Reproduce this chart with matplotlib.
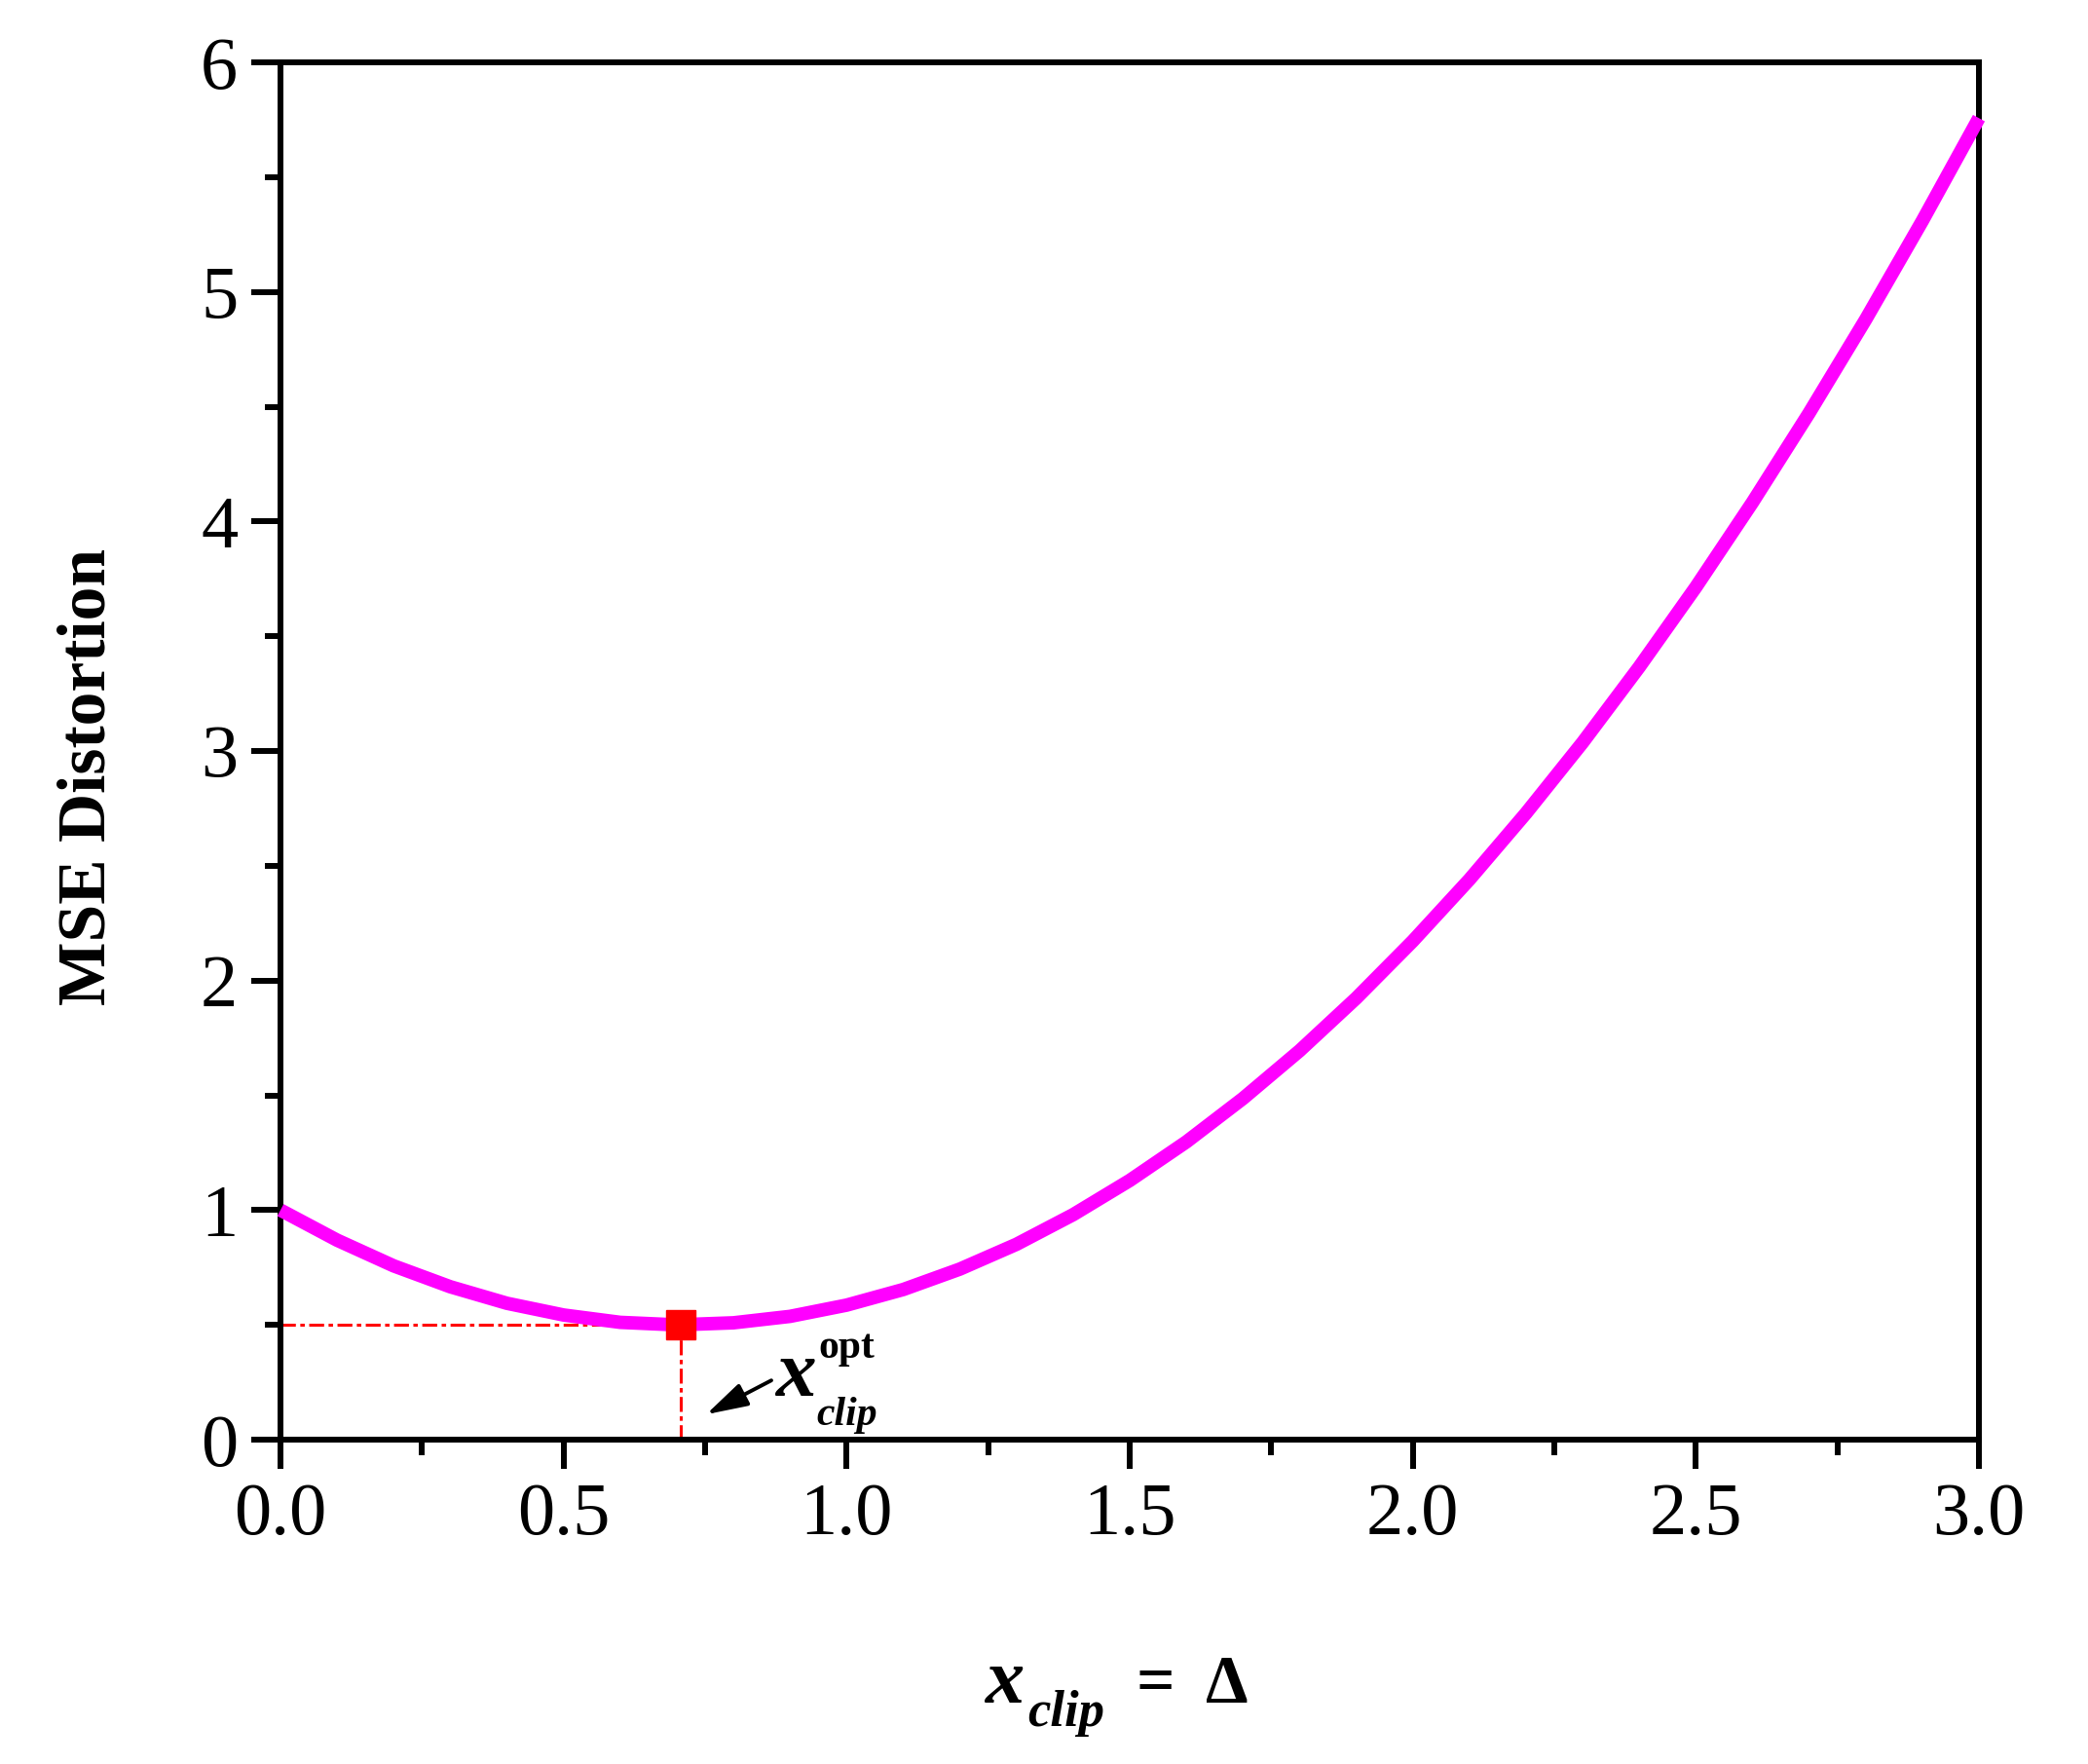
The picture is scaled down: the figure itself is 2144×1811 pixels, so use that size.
import matplotlib
matplotlib.use("Agg")
import matplotlib.pyplot as plt
from matplotlib.ticker import MultipleLocator, FormatStrFormatter

# Data
x_clip = [0.0, 0.1, 0.2, 0.3, 0.4, 0.5, 0.6, 0.7, 0.8, 0.9, 1.0,
          1.1, 1.2, 1.3, 1.4, 1.5, 1.6, 1.7, 1.8, 1.9, 2.0,
          2.1, 2.2, 2.3, 2.4, 2.5, 2.6, 2.7, 2.8, 2.9, 3.0]
mse = [1.000, 0.869, 0.757, 0.666, 0.594, 0.543, 0.511, 0.500, 0.509, 0.537, 0.586,
       0.654, 0.743, 0.851, 0.980, 1.129, 1.297, 1.486, 1.694, 1.923, 2.172,
       2.440, 2.729, 3.037, 3.366, 3.714, 4.083, 4.472, 4.880, 5.309, 5.757]
opt_x = 0.707
opt_y = 0.5
arrow_tip = (0.752, 0.110)
arrow_tail = (0.867, 0.258)
x_ticks = [0.0, 0.5, 1.0, 1.5, 2.0, 2.5, 3.0]
y_ticks = [0, 1, 2, 3, 4, 5, 6]

W, H = 2144, 1811
fig = plt.figure(figsize=(W / 100, H / 100), dpi=100)
ax = fig.add_axes([288 / W, 1 - 1478 / H, (2032 - 288) / W, (1478 - 64) / H])

serif = "Liberation Serif"

ax.plot(x_clip, mse, color="#ff00ff", lw=10, solid_capstyle="butt",
        solid_joinstyle="round", zorder=3, clip_on=False)
ax.plot([0, opt_x], [opt_y, opt_y], color="red", lw=2.2, ls=(0, (5, 1.5, 1.5, 1.5)), zorder=2)
ax.plot([opt_x, opt_x], [0, opt_y], color="red", lw=2.2, ls=(0, (5, 1.5, 1.5, 1.5)), zorder=2)
ax.plot([opt_x], [opt_y], marker="s", color="red", markersize=22, zorder=4, mec="red")

ax.annotate("", xy=arrow_tip, xytext=arrow_tail,
            arrowprops=dict(arrowstyle="-|>,head_length=2.6,head_width=0.75",
                            color="black", lw=2.8, shrinkA=0, shrinkB=0))

ax.set_xlim(0, 3)
ax.set_ylim(0, 6)
ax.set_xticks(x_ticks)
ax.set_yticks(y_ticks)
ax.xaxis.set_minor_locator(MultipleLocator(0.25))
ax.yaxis.set_minor_locator(MultipleLocator(0.5))
ax.xaxis.set_major_formatter(FormatStrFormatter("%.1f"))
ax.yaxis.set_major_formatter(FormatStrFormatter("%d"))

for s in ax.spines.values():
    s.set_linewidth(4.3)
ax.tick_params(which="both", direction="out", top=False, right=False, width=4.3)
ax.tick_params(which="major", length=21.5, pad=10, labelsize=55)
ax.tick_params(which="minor", length=11.5)
for lab in ax.get_xticklabels() + ax.get_yticklabels():
    lab.set_fontfamily(serif)

def ftext(px, py, s, size, weight="bold", style="normal", **kw):
    fig.text(px / W, 1 - py / H, s, fontsize=size, fontweight=weight, fontstyle=style,
             family=serif, ha="left", va="baseline", **kw)

# Y label
fig.text(123 / W, 1 - 797 / H, "MSE Distortion", rotation=90, fontsize=50,
         fontweight="bold", family=serif, ha="right", va="center")

# X label: x_clip = Δ
ftext(1012, 1748, "x", 58, style="italic")
ftext(1055, 1772, "clip", 38, style="italic")
ftext(1166, 1748, "=", 50)
ftext(1238, 1748, "Δ", 50)

# Annotation text x_clip^opt
ftext(796, 1433, "x", 60, style="italic")
ftext(840, 1394, "opt", 30)
ftext(838, 1463, "clip", 30, style="italic")

fig.savefig("out.png", dpi=100, facecolor="white")
